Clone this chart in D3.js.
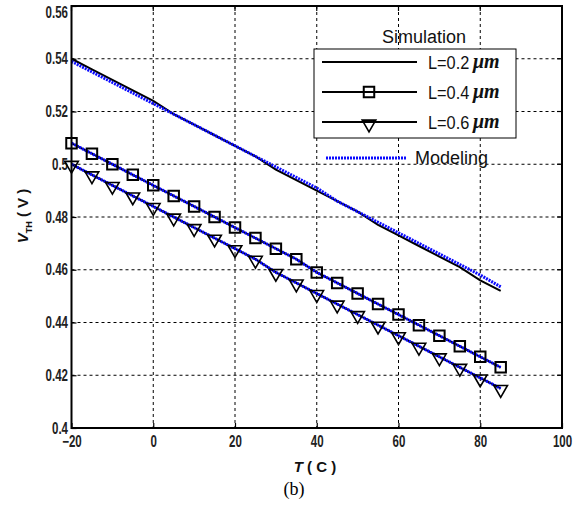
<!DOCTYPE html>
<html><head><meta charset="utf-8">
<script src="https://cdn.jsdelivr.net/npm/d3@7"></script>
<style>body{margin:0;background:#fff}svg{display:block}</style>
</head><body>
<svg id="c" width="585" height="506"></svg>
<script>
const temps = [-20,-15,-10,-5,0,5,10,15,20,25,30,35,40,45,50,55,60,65,70,75,80,85];
const simL02 = [0.540,0.536,0.532,0.528,0.524,0.519,0.515,0.511,0.507,0.503,0.498,0.494,0.490,0.486,0.482,0.477,0.473,0.469,0.465,0.461,0.456,0.452];
const simL04 = [0.508,0.504,0.500,0.496,0.492,0.488,0.484,0.480,0.476,0.472,0.468,0.464,0.459,0.455,0.451,0.447,0.443,0.439,0.435,0.431,0.427,0.423];
const simL06 = [0.500,0.496,0.492,0.488,0.484,0.480,0.476,0.472,0.468,0.464,0.459,0.455,0.451,0.447,0.443,0.439,0.435,0.431,0.427,0.423,0.419,0.415];
const modL02 = [0.539,0.535,0.531,0.527,0.523,0.519,0.515,0.511,0.507,0.503,0.499,0.495,0.491,0.486,0.482,0.478,0.474,0.470,0.466,0.462,0.458,0.4535];
const modL04 = [0.508,0.504,0.500,0.496,0.492,0.488,0.484,0.480,0.476,0.472,0.468,0.464,0.459,0.455,0.451,0.447,0.443,0.439,0.435,0.431,0.427,0.423];
const modL06 = [0.500,0.496,0.492,0.488,0.484,0.480,0.476,0.472,0.468,0.464,0.459,0.455,0.451,0.447,0.443,0.439,0.435,0.431,0.427,0.423,0.419,0.415];
const xTicks = [-20,0,20,40,60,80,100];
const yTicks = [0.4,0.42,0.44,0.46,0.48,0.5,0.52,0.54,0.56];
const yTickLabels = ["0.4","0.42","0.44","0.46","0.48","0.5","0.52","0.54","0.56"];
const legendLabels = ["L=0.2","L=0.4","L=0.6"];

const svg = d3.select("#c");
const L = 71.5, R = 562, T = 6, B = 428;
const x = d3.scaleLinear().domain([-20,100]).range([L,R]);
const y = d3.scaleLinear().domain([0.4,0.56]).range([B,T]);
const sans = "Arial,'Liberation Sans',sans-serif";
const SX = 0.72;

// grid
const grid = svg.append("g").attr("stroke","#000").attr("stroke-width",1).attr("stroke-dasharray","3,3");
xTicks.slice(1,-1).forEach(t=>grid.append("line").attr("x1",x(t)).attr("x2",x(t)).attr("y1",T).attr("y2",B));
yTicks.slice(1,-1).forEach(t=>grid.append("line").attr("y1",y(t)).attr("y2",y(t)).attr("x1",L).attr("x2",R));

// axes
const xAxis = d3.axisBottom(x).tickValues(xTicks).tickSize(-5).tickPadding(8).tickFormat(d3.format("d"));
const gx = svg.append("g").attr("transform",`translate(0,${B})`).call(xAxis);
const yAxis = d3.axisLeft(y).tickValues(yTicks).tickSize(-5).tickPadding(4).tickFormat((d,i)=>yTickLabels[i]);
const gy = svg.append("g").attr("transform",`translate(${L},0)`).call(yAxis);
[gx,gy].forEach(g=>{
  g.select(".domain").remove();
  g.selectAll(".tick line").attr("stroke","#000").attr("stroke-width",1.2);
  g.selectAll("text").attr("fill","#222").style("font-family",sans).style("font-weight","bold").style("font-size","16px")
    .attr("transform",`scale(${SX},1)`);
});
gy.selectAll("text").attr("x",-3.5/SX);
gy.selectAll(".tick").filter(d=>Math.abs(d-0.56)<1e-9).select("text").attr("dy","0.7em");
// right/top ticks
const rt = svg.append("g").attr("stroke","#000").attr("stroke-width",1.2);
yTicks.forEach(t=>rt.append("line").attr("x1",R).attr("x2",R-5).attr("y1",y(t)).attr("y2",y(t)));
xTicks.forEach(t=>rt.append("line").attr("x1",x(t)).attr("x2",x(t)).attr("y1",T).attr("y2",T+5));

const line = d3.line().x((d,i)=>x(temps[i])).y(d=>y(d));
const sims = [simL02, simL04, simL06];
const mods = [modL02, modL04, modL06];

const plot = svg.append("g");
sims.forEach(s=>plot.append("path").attr("d",line(s)).attr("fill","none").attr("stroke","#000").attr("stroke-width",2));
mods.forEach(s=>plot.append("path").attr("d",line(s)).attr("fill","none").attr("stroke","#0a0aff").attr("stroke-width",3).attr("stroke-dasharray","2,1"));

const sq = d3.symbol().type(d3.symbolSquare).size(110);
const tri = d3.symbol().type(d3.symbolTriangle).size(80);
simL04.forEach((v,i)=>plot.append("path").attr("d",sq()).attr("transform",`translate(${x(temps[i])},${y(v)})`).attr("fill","none").attr("stroke","#000").attr("stroke-width",2));
simL06.forEach((v,i)=>plot.append("path").attr("d",tri()).attr("transform",`translate(${x(temps[i])},${y(v)+1}) rotate(180)`).attr("fill","none").attr("stroke","#000").attr("stroke-width",1.6));

// frame
svg.append("rect").attr("x",L).attr("y",T).attr("width",R-L).attr("height",B-T).attr("fill","none").attr("stroke","#000").attr("stroke-width",2);

// legend
const lg = svg.append("g");
lg.append("text").attr("x",424).attr("y",43).attr("text-anchor","middle").style("font-family",sans).style("font-size","18px").attr("fill","#111").text("Simulation");
lg.append("rect").attr("x",314).attr("y",49).attr("width",202).attr("height",89).attr("fill","#fff").attr("stroke","#000").attr("stroke-width",1);
const ly = [62,92,122];
ly.forEach((yy,i)=>{
  lg.append("line").attr("x1",322).attr("x2",417).attr("y1",yy).attr("y2",yy).attr("stroke","#000").attr("stroke-width",2);
  if(i===1) lg.append("path").attr("d",sq()).attr("transform",`translate(369,${yy})`).attr("fill","none").attr("stroke","#000").attr("stroke-width",2);
  if(i===2) lg.append("path").attr("d",tri()).attr("transform",`translate(369,${yy+2}) rotate(180)`).attr("fill","none").attr("stroke","#000").attr("stroke-width",1.6);
  lg.append("text").attr("transform",`translate(428,${yy+7}) scale(0.86,1)`).style("font-family",sans).style("font-size","19px").attr("fill","#111").text(legendLabels[i]);
  lg.append("text").attr("x",473).attr("y",yy+6).style("font-family","'Liberation Serif','Times New Roman',serif").style("font-style","italic").style("font-size","20px").style("font-weight","bold").attr("fill","#111").text("μm");
});
lg.append("line").attr("x1",326).attr("x2",407).attr("y1",158).attr("y2",158).attr("stroke","#0a0aff").attr("stroke-width",3).attr("stroke-dasharray","2,1");
lg.append("text").attr("x",415).attr("y",164).style("font-family",sans).style("font-size","18px").attr("fill","#111").text("Modeling");

// axis titles
const xt = svg.append("text").attr("x",315).attr("y",472).attr("text-anchor","middle").style("font-family",sans).style("font-weight","bold").style("font-size","15px").attr("fill","#111");
xt.append("tspan").style("font-style","italic").text("T");
xt.append("tspan").text(" ( C )");
const yt = svg.append("text").attr("transform","translate(28,216) rotate(-90)").attr("text-anchor","middle").style("font-family",sans).style("font-weight","bold").style("font-size","15px").attr("fill","#111");
yt.append("tspan").style("font-style","italic").text("V");
yt.append("tspan").attr("dy",4).style("font-size","9px").text("TH");
yt.append("tspan").attr("dy",-4).text(" ( V )");
svg.append("text").attr("x",294).attr("y",495).attr("text-anchor","middle").style("font-family","'Liberation Serif','Times New Roman',serif").style("font-size","18px").attr("fill","#000").text("(b)");
</script>
</body></html>
